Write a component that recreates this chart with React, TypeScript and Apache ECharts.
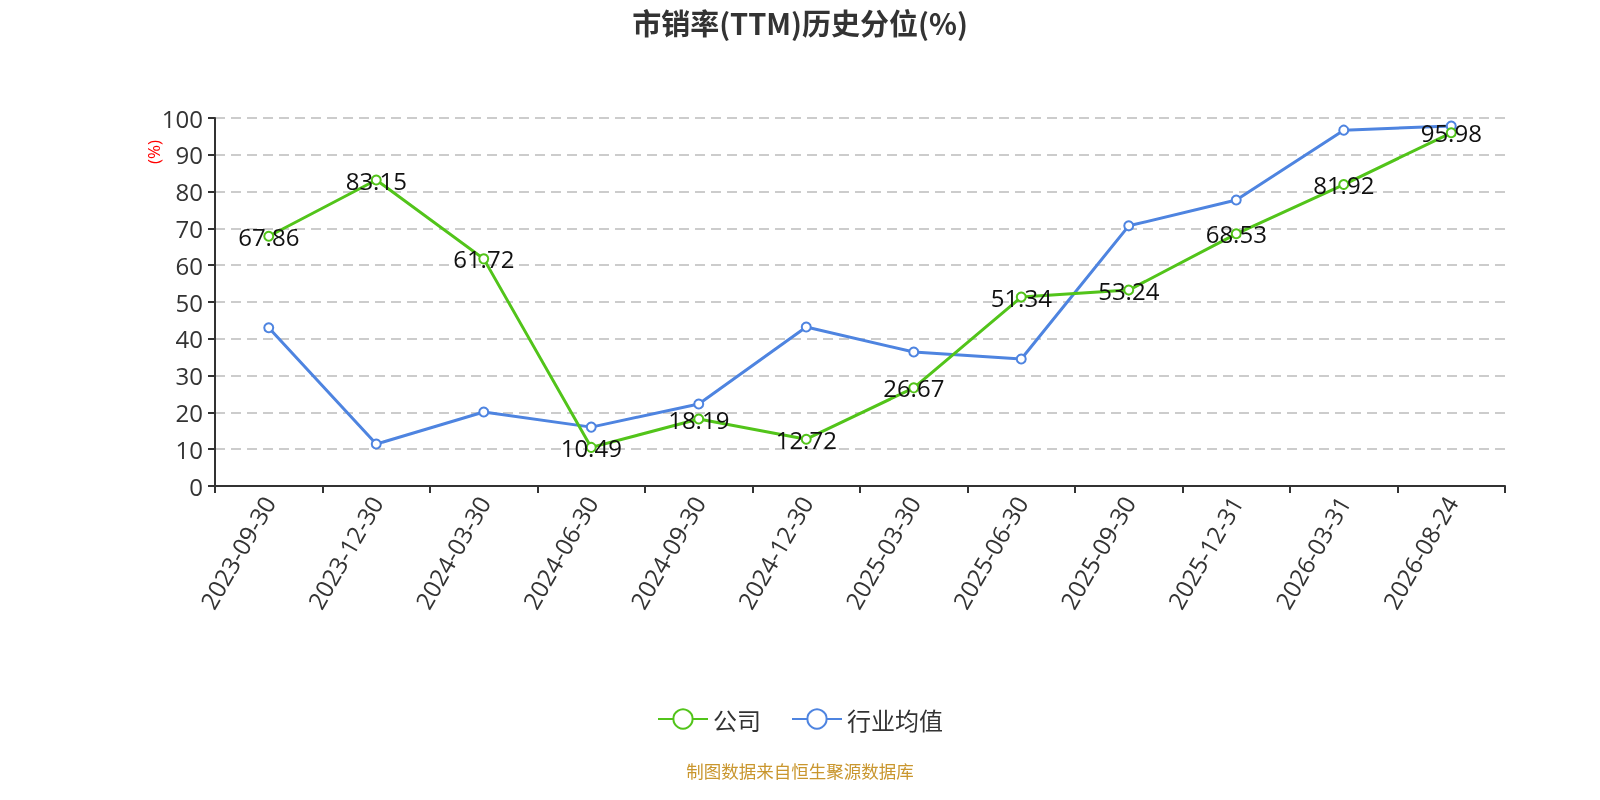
import React, { useEffect, useRef } from "react";
import * as echarts from "echarts";

const categories = [
  "2023-09-30", "2023-12-30", "2024-03-30", "2024-06-30", "2024-09-30", "2024-12-30",
  "2025-03-30", "2025-06-30", "2025-09-30", "2025-12-31", "2026-03-31", "2026-08-24",
];
const companyValues = [67.86, 83.15, 61.72, 10.49, 18.19, 12.72, 26.67, 51.34, 53.24, 68.53, 81.92, 95.98];
const industryValues = [43.0, 11.4, 20.1, 16.0, 22.3, 43.2, 36.4, 34.5, 70.7, 77.7, 96.7, 97.8];
const yTicks = { min: 0, max: 100, interval: 10 };

const FONT = "'Open Sans', 'Noto Sans CJK SC', 'Noto Sans', sans-serif";
const CJK = "'Noto Sans CJK SC', sans-serif";

export default function App() {
  const ref = useRef<HTMLDivElement>(null);
  useEffect(() => {
    document.body.style.margin = "0";
    document.body.style.overflow = "hidden";
    const chart = echarts.init(ref.current!, null, { renderer: "svg" });
    chart.setOption({
      animation: false,
      textStyle: { fontFamily: FONT },
      title: {
        text: "市销率(TTM)历史分位(%)",
        left: "center",
        top: 2,
        textStyle: { fontSize: 29, fontWeight: "bold", color: "#333", fontFamily: CJK },
      },
      legend: {
        bottom: 64,
        left: "center",
        itemWidth: 50,
        itemHeight: 24,
        itemGap: 30,
        textStyle: { fontSize: 24, color: "#333", fontFamily: CJK },
        data: ["公司", "行业均值"],
      },
      graphic: [
        {
          type: "text",
          x: 153,
          y: 152,
          rotation: Math.PI / 2,
          style: { text: "(%)", fill: "#ff0000", fontSize: 17, fontFamily: FONT, align: "center", verticalAlign: "middle" },
        },
        {
          type: "text",
          left: "center",
          top: 762,
          style: { text: "制图数据来自恒生聚源数据库", fill: "#c9962e", fontSize: 17.5, fontFamily: CJK },
        },
      ],
      grid: { left: 215, right: 95, top: 118, bottom: 314, containLabel: false },
      xAxis: {
        type: "category",
        data: categories,
        boundaryGap: true,
        axisLine: { lineStyle: { color: "#333", width: 2 } },
        axisTick: { show: true, alignWithLabel: false, length: 7, lineStyle: { color: "#333", width: 2 } },
        axisLabel: { rotate: 60, fontSize: 24, color: "#333", margin: 12, interval: 0, fontFamily: FONT },
      },
      yAxis: {
        type: "value",
        min: yTicks.min,
        max: yTicks.max,
        interval: yTicks.interval,
        axisLine: { show: true, lineStyle: { color: "#333", width: 2 } },
        axisTick: { show: true, length: 7, lineStyle: { color: "#333", width: 2 } },
        axisLabel: { fontSize: 24, color: "#333", margin: 12, fontFamily: FONT },
        splitLine: { show: true, lineStyle: { type: [10, 6], color: "#ccc", width: 2 } },
      },
      series: [
        {
          name: "公司",
          type: "line",
          data: companyValues,
          symbol: "emptyCircle",
          symbolSize: 9,
          color: "#52c41a",
          lineStyle: { width: 3, color: "#52c41a" },
          itemStyle: { color: "#52c41a", borderWidth: 2 },
          label: { show: true, position: "inside", fontSize: 24, color: "#111", fontFamily: FONT },
          z: 3,
        },
        {
          name: "行业均值",
          type: "line",
          data: industryValues,
          symbol: "emptyCircle",
          symbolSize: 9,
          color: "#4e84e0",
          lineStyle: { width: 3, color: "#4e84e0" },
          itemStyle: { color: "#4e84e0", borderWidth: 2 },
          label: { show: false },
          z: 2,
        },
      ],
    });
    return () => chart.dispose();
  }, []);
  return <div ref={ref} style={{ position: "fixed", left: 0, top: 0, width: "100vw", height: "100vh" }} />;
}
